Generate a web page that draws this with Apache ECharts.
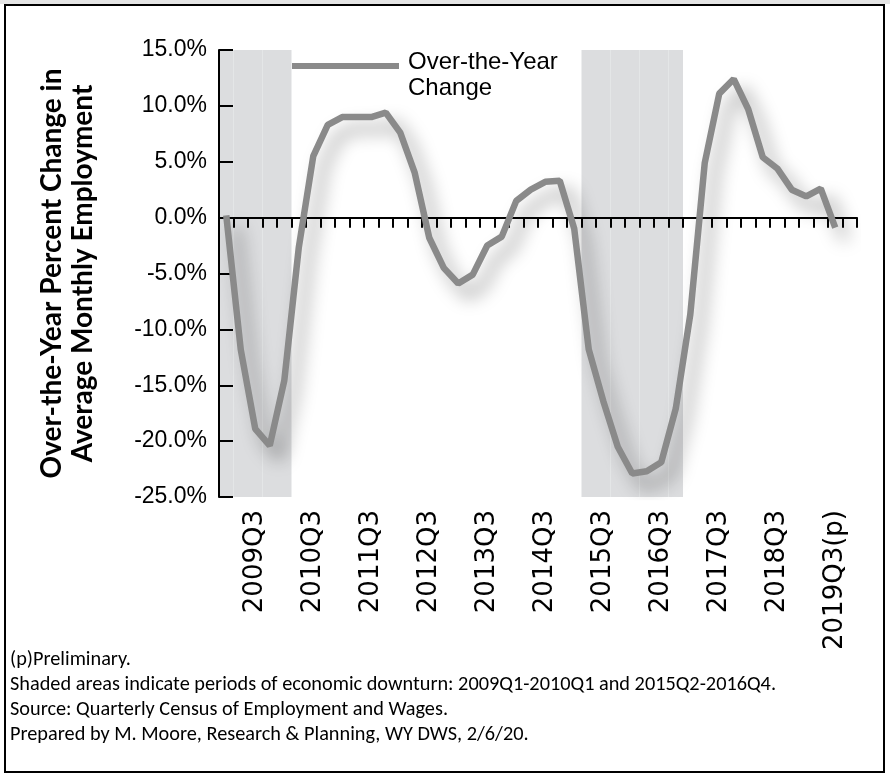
<!DOCTYPE html>
<html>
<head>
<meta charset="utf-8">
<title>Over-the-Year Percent Change in Average Monthly Employment</title>
<script src="https://cdn.jsdelivr.net/npm/echarts@6/dist/echarts.min.js"></script>
<style>
  html, body { margin: 0; padding: 0; background: #ffffff; }
  #chart { width: 890px; height: 777px; }
</style>
</head>
<body>
<div id="chart"></div>
<script>
// Quarterly categories on the x axis (2009Q1 through 2019Q4)
const quarters = [
  '2009Q1','2009Q2','2009Q3','2009Q4',
  '2010Q1','2010Q2','2010Q3','2010Q4',
  '2011Q1','2011Q2','2011Q3','2011Q4',
  '2012Q1','2012Q2','2012Q3','2012Q4',
  '2013Q1','2013Q2','2013Q3','2013Q4',
  '2014Q1','2014Q2','2014Q3','2014Q4',
  '2015Q1','2015Q2','2015Q3','2015Q4',
  '2016Q1','2016Q2','2016Q3','2016Q4',
  '2017Q1','2017Q2','2017Q3','2017Q4',
  '2018Q1','2018Q2','2018Q3','2018Q4',
  '2019Q1','2019Q2','2019Q3(p)','2019Q4'
];

// Quarters that carry a visible tick label
const labeledQuarters = [
  '2009Q3','2010Q3','2011Q3','2012Q3','2013Q3','2014Q3',
  '2015Q3','2016Q3','2017Q3','2018Q3','2019Q3(p)'
];

// Over-the-year percent change in average monthly employment
const overYearChange = [
  0.2, -11.8, -18.9, -20.4,
  -14.6, -2.7, 5.5, 8.3,
  9.0, 9.0, 9.0, 9.4,
  7.6, 4.0, -1.8, -4.5,
  -5.9, -5.1, -2.5, -1.7,
  1.5, 2.5, 3.2, 3.3,
  -1.0, -11.8, -16.4, -20.5,
  -22.9, -22.7, -21.9, -17.1,
  -8.7, 4.9, 11.1, 12.4,
  9.7, 5.4, 4.4, 2.5,
  1.9, 2.6, -0.9
];

// Periods of economic downturn (first and last quarter, inclusive)
const downturns = [
  ['2009Q1', '2010Q1'],
  ['2015Q2', '2016Q4']
];

// Value axis range and step
const yMin = -25;
const yMax = 15;
const yStep = 5;

const footnotes = [
  '(p)Preliminary.',
  'Shaded areas indicate periods of economic downturn: 2009Q1-2010Q1 and 2015Q2-2016Q4.',
  'Source: Quarterly Census of Employment and Wages.',
  'Prepared by M. Moore, Research & Planning, WY DWS, 2/6/20.'
];

// Full-height shading columns: one bar up to the top, one down to the bottom
function inDownturn(idx) {
  return downturns.some(function (r) {
    return idx >= quarters.indexOf(r[0]) && idx <= quarters.indexOf(r[1]);
  });
}
const shadeUp = quarters.map(function (q, i) { return inDownturn(i) ? yMax : null; });
const shadeDown = quarters.map(function (q, i) { return inDownturn(i) ? yMin : null; });

const chart = echarts.init(document.getElementById('chart'), null, { renderer: 'canvas' });

const axisFont = 'Liberation Sans, Arial, sans-serif';
const quarterFont = 'DejaVu Sans, sans-serif';
const noteFont = 'Carlito, Lato, sans-serif';

chart.setOption({
  backgroundColor: '#ffffff',
  animation: false,
  grid: { left: 219, right: 33, top: 50, bottom: 280, containLabel: false },
  legend: {
    data: ['Over-the-Year Change'],
    left: 292,
    top: 35,
    padding: 0,
    itemWidth: 107,
    itemHeight: 6,
    icon: 'rect',
    selectedMode: false,
    // a short blank first row drops the two text rows so the first sits level with the swatch
    formatter: function () { return '{s| }\n{t|Over-the-Year}\n{t|Change}'; },
    textStyle: {
      fontFamily: axisFont,
      fontSize: 24,
      color: '#000',
      rich: {
        s: { fontSize: 10, lineHeight: 18 },
        t: { fontFamily: axisFont, fontSize: 24, lineHeight: 26, color: '#000', padding: [0, 0, 0, 4] }
      }
    }
  },
  xAxis: [
    {
      // zero line with a tick at every quarter boundary
      type: 'category',
      data: quarters,
      boundaryGap: true,
      position: 'bottom',
      z: 2,
      axisLine: { onZero: true, lineStyle: { color: '#000', width: 2 } },
      axisTick: { show: true, interval: 0, length: 10, lineStyle: { color: '#000', width: 2 } },
      axisLabel: { show: false },
      splitLine: { show: false }
    },
    {
      // quarter labels along the bottom of the plot
      type: 'category',
      data: quarters,
      boundaryGap: true,
      position: 'bottom',
      axisLine: { show: false, onZero: false },
      axisTick: { show: false },
      axisLabel: {
        rotate: 90,
        margin: 13,
        fontFamily: quarterFont,
        fontSize: 26,
        color: '#000',
        interval: function (idx, name) { return labeledQuarters.indexOf(name) >= 0; }
      },
      splitLine: { show: false }
    }
  ],
  yAxis: {
    type: 'value',
    min: yMin,
    max: yMax,
    interval: yStep,
    z: 2,
    name: 'Over-the-Year Percent Change in\nAverage Monthly Employment',
    nameLocation: 'middle',
    nameRotate: 90,
    nameGap: 121,
    nameTextStyle: {
      fontFamily: 'Lato, sans-serif',
      fontWeight: 'bold',
      fontSize: 28,
      lineHeight: 31,
      color: '#000'
    },
    axisLine: { show: true, lineStyle: { color: '#000', width: 2 } },
    axisTick: { show: true, inside: true, length: 14, lineStyle: { color: '#000', width: 2 } },
    axisLabel: {
      margin: 12,
      fontFamily: axisFont,
      fontSize: 23,
      color: '#000',
      formatter: function (v) { return v.toFixed(1) + '%'; }
    },
    splitLine: { show: false }
  },
  series: [
    {
      name: 'Downturn',
      type: 'bar',
      data: shadeUp,
      barWidth: '100%',
      barGap: '-100%',
      z: 1,
      silent: true,
      itemStyle: { color: '#dcdddf' }
    },
    {
      name: 'Downturn low',
      type: 'bar',
      data: shadeDown,
      barWidth: '100%',
      barGap: '-100%',
      z: 1,
      silent: true,
      itemStyle: { color: '#dcdddf' }
    },
    {
      name: 'Over-the-Year Change',
      type: 'line',
      data: overYearChange,
      z: 3,
      symbol: 'none',
      smooth: false,
      itemStyle: { color: '#8a8a8a' },
      lineStyle: {
        color: '#8a8a8a',
        width: 6.5,
        shadowColor: 'rgba(0,0,0,0.4)',
        shadowBlur: 18,
        shadowOffsetX: 10,
        shadowOffsetY: 12
      }
    }
  ],
  graphic: [
    {
      type: 'rect',
      shape: { x: 0, y: 0, width: 890, height: 4 },
      style: { fill: '#e4e4e4' },
      silent: true
    },
    {
      type: 'rect',
      shape: { x: 5, y: 5, width: 879, height: 767 },
      style: { fill: 'none', stroke: '#000', lineWidth: 2 },
      silent: true
    },
    {
      type: 'text',
      left: 10,
      top: 648,
      style: {
        text: footnotes.join('\n'),
        fontFamily: noteFont,
        fontSize: 20.3,
        lineHeight: 24.7,
        fill: '#000'
      },
      silent: true
    }
  ]
});
</script>
</body>
</html>
